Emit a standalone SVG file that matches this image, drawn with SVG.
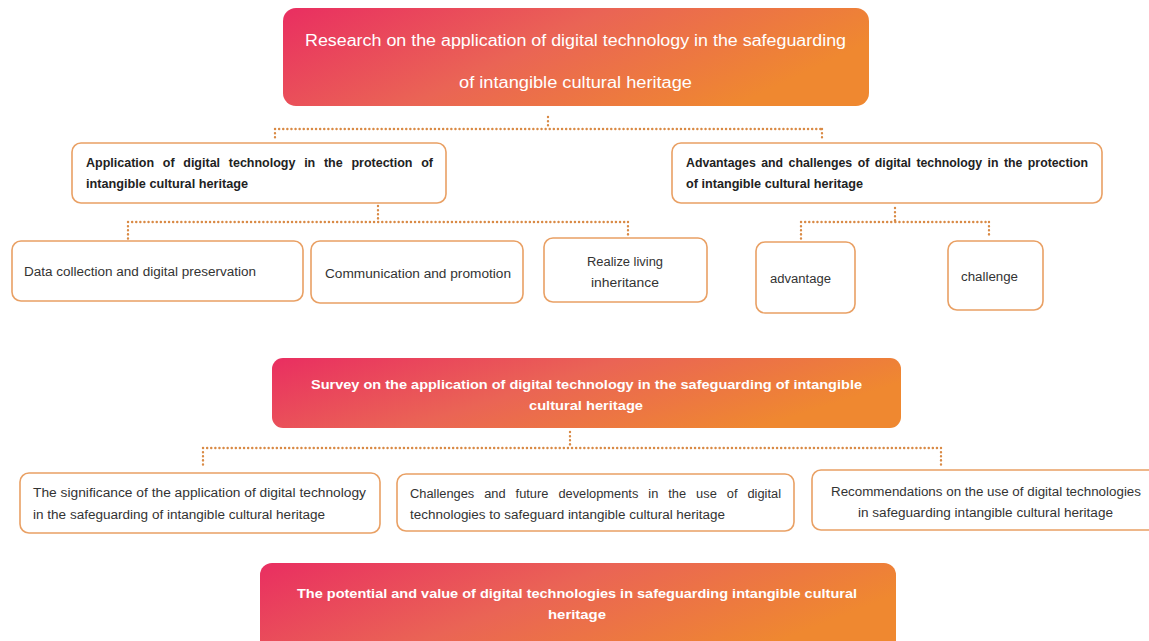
<svg xmlns="http://www.w3.org/2000/svg" width="1149" height="641" viewBox="0 0 1149 641">
<defs>
<linearGradient id="g" x1="0" y1="0" x2="1" y2="0.35">
<stop offset="0" stop-color="#E92E61"/>
<stop offset="0.5" stop-color="#EA6455"/>
<stop offset="1" stop-color="#EF8830"/>
</linearGradient>
<style>
.grad{fill:url(#g);}
.box{fill:#fff;stroke:#E9A064;stroke-width:1.6;}
.wt{fill:#fff;font-family:"Liberation Sans",Arial,sans-serif;}
.bt{fill:#222;font-family:"Liberation Sans",Arial,sans-serif;font-weight:bold;font-size:12px;}
.rt{fill:#333;font-family:"Liberation Sans",Arial,sans-serif;font-size:12px;}
.dot{fill:none;stroke:#D98A45;stroke-width:2.4;stroke-dasharray:0.1 4;stroke-linecap:round;}
</style>
</defs>
<rect width="1149" height="641" fill="#fff"/>
<g id="connectors">
<path class="dot" d="M548 117 V129 M275 129 H822 M275 129 V141 M822 129 V139"/>
<path class="dot" d="M378 206 V222 M128 222 H628 M128 222 V239 M628 222 V237"/>
<path class="dot" d="M895 208 V222 M801 222 H989 M801 222 V239 M989 222 V238"/>
<path class="dot" d="M570 432 V448 M203 448 H941 M203 448 V468 M941 448 V465"/>
</g>
<g id="root">
<rect class="grad" x="283" y="8" width="586" height="98" rx="13"/>
<text class="wt" font-size="16" x="305" y="46" textLength="541" lengthAdjust="spacingAndGlyphs">Research on the application of digital technology in the safeguarding</text>
<text class="wt" font-size="16" x="459" y="88" textLength="233" lengthAdjust="spacingAndGlyphs">of intangible cultural heritage</text>
</g>
<g id="app">
<rect class="box" x="72" y="143" width="374" height="60" rx="9"/>
<text class="bt" x="86" y="167" word-spacing="5" textLength="347" lengthAdjust="spacingAndGlyphs">Application of digital technology in the protection of</text>
<text class="bt" x="86" y="188" textLength="162" lengthAdjust="spacingAndGlyphs">intangible cultural heritage</text>
</g>
<g id="adv">
<rect class="box" x="672" y="143" width="430" height="60" rx="9"/>
<text class="bt" x="686" y="167" word-spacing="2" textLength="402" lengthAdjust="spacingAndGlyphs">Advantages and challenges of digital technology in the protection</text>
<text class="bt" x="686" y="188" textLength="177" lengthAdjust="spacingAndGlyphs">of intangible cultural heritage</text>
</g>
<g id="data">
<rect class="box" x="12" y="241" width="291" height="60" rx="9"/>
<text class="rt" x="24" y="276" textLength="232" lengthAdjust="spacingAndGlyphs">Data collection and digital preservation</text>
</g>
<g id="comm">
<rect class="box" x="311" y="241" width="212" height="62" rx="9"/>
<text class="rt" x="325" y="278" textLength="186" lengthAdjust="spacingAndGlyphs">Communication and promotion</text>
</g>
<g id="living">
<rect class="box" x="544" y="238" width="163" height="64" rx="9"/>
<text class="rt" x="587" y="266" textLength="76" lengthAdjust="spacingAndGlyphs">Realize living</text>
<text class="rt" x="591" y="287" textLength="68" lengthAdjust="spacingAndGlyphs">inheritance</text>
</g>
<g id="advantage">
<rect class="box" x="756" y="242" width="99" height="71" rx="9"/>
<text class="rt" x="770" y="283" textLength="61" lengthAdjust="spacingAndGlyphs">advantage</text>
</g>
<g id="challenge">
<rect class="box" x="948" y="241" width="95" height="69" rx="9"/>
<text class="rt" x="961" y="281" textLength="57" lengthAdjust="spacingAndGlyphs">challenge</text>
</g>
<g id="survey">
<rect class="grad" x="272" y="358" width="629" height="70" rx="11"/>
<text class="wt" font-size="13" font-weight="bold" x="311" y="389" textLength="551" lengthAdjust="spacingAndGlyphs">Survey on the application of digital technology in the safeguarding of intangible</text>
<text class="wt" font-size="13" font-weight="bold" x="529" y="410" textLength="114" lengthAdjust="spacingAndGlyphs">cultural heritage</text>
</g>
<g id="significance">
<rect class="box" x="20" y="473" width="360" height="60" rx="9"/>
<text class="rt" x="33" y="497" textLength="333" lengthAdjust="spacingAndGlyphs">The significance of the application of digital technology</text>
<text class="rt" x="33" y="519" textLength="292" lengthAdjust="spacingAndGlyphs">in the safeguarding of intangible cultural heritage</text>
</g>
<g id="challenges">
<rect class="box" x="397" y="474" width="397" height="57" rx="9"/>
<text class="rt" x="410" y="498" word-spacing="6" textLength="371" lengthAdjust="spacingAndGlyphs">Challenges and future developments in the use of digital</text>
<text class="rt" x="410" y="519" textLength="315" lengthAdjust="spacingAndGlyphs">technologies to safeguard intangible cultural heritage</text>
</g>
<g id="recommend">
<rect class="box" x="812" y="470" width="350" height="60" rx="9"/>
<text class="rt" x="831" y="496" textLength="310" lengthAdjust="spacingAndGlyphs">Recommendations on the use of digital technologies</text>
<text class="rt" x="858" y="517" textLength="255" lengthAdjust="spacingAndGlyphs">in safeguarding intangible cultural heritage</text>
</g>
<g id="potential">
<rect class="grad" x="260" y="563" width="636" height="90" rx="12"/>
<text class="wt" font-size="13" font-weight="bold" x="297" y="598" textLength="560" lengthAdjust="spacingAndGlyphs">The potential and value of digital technologies in safeguarding intangible cultural</text>
<text class="wt" font-size="13" font-weight="bold" x="548" y="619" textLength="58" lengthAdjust="spacingAndGlyphs">heritage</text>
</g>
</svg>
